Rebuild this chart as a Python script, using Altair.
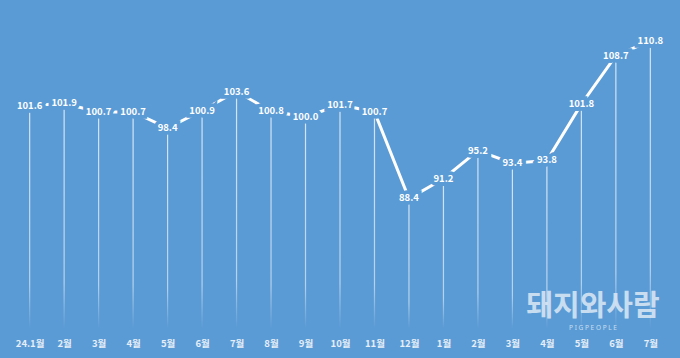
import altair as alt
import pandas as pd

months = ["24.1월", "2월", "3월", "4월", "5월", "6월", "7월", "8월", "9월", "10월",
          "11월", "12월", "1월", "2월", "3월", "4월", "5월", "6월", "7월"]
values = [101.6, 101.9, 100.7, 100.7, 98.4, 100.9, 103.6, 100.8, 100.0, 101.7,
          100.7, 88.4, 91.2, 95.2, 93.4, 93.8, 101.8, 108.7, 110.8]

BG = "#5b9bd5"
df = pd.DataFrame({"i": list(range(len(months))), "v": values,
                   "label": [f"{v:.1f}" for v in values]})

label_expr = "[" + ",".join(f"'{m}'" for m in months) + "][datum.value]"

x = alt.X("i:O", scale=alt.Scale(type="point", padding=0.86),
          axis=alt.Axis(title=None, labelAngle=0, domain=False, ticks=False,
                        labelExpr=label_expr, labelPadding=10, labelFontSize=9.5,
                        labelColor="#e6eef8", labelFont="Noto Sans CJK KR",
                        labelFontWeight="bold"))
y = alt.Y("v:Q", scale=alt.Scale(domain=[70, 116.6], nice=False, zero=False),
          axis=None)

base = alt.Chart(df)

drops = base.mark_bar(
    width=1.2,
    color=alt.Gradient(gradient="linear", x1=0, y1=0, x2=0, y2=1,
                       stops=[alt.GradientStop(color="rgba(255,255,255,0.75)", offset=0),
                              alt.GradientStop(color="rgba(255,255,255,0.55)", offset=0.8),
                              alt.GradientStop(color="rgba(255,255,255,0.0)", offset=1)])
).encode(x=x, y=y, y2=alt.datum(70))

line = base.mark_line(color="white", strokeWidth=3).encode(x=x, y=y)

mask = base.mark_text(font="Noto Sans CJK KR", fontWeight="bold", fontSize=9.5,
                      color=BG, stroke=BG, strokeWidth=7.5, strokeJoin="miter",
                      baseline="middle").encode(x=x, y=y, text="label:N")

labels = base.mark_text(font="Noto Sans CJK KR", fontWeight="bold", fontSize=9.5,
                        color="white", baseline="middle").encode(x=x, y=y, text="label:N")

wm_df = pd.DataFrame({"t": ["돼지와사람"], "s": ["P I G P E O P L E"]})
wm1 = alt.Chart(wm_df).mark_text(font="Noto Sans CJK KR", fontWeight="bold", fontSize=29,
                                 color="#dde9f5", opacity=0.85, align="center",
                                 baseline="middle").encode(
    x=alt.value(593), y=alt.value(307), text="t:N")
wm2 = alt.Chart(wm_df).mark_text(font="Noto Sans", fontSize=6.5, color="#dde9f5",
                                 opacity=0.85, align="center", baseline="middle").encode(
    x=alt.value(593), y=alt.value(328), text="s:N")

chart = alt.layer(drops, line, mask, labels, wm1, wm2).properties(
    width=680, height=328,
    background=BG,
    padding={"left": 0, "right": 0, "top": 0, "bottom": 30},
    autosize=alt.AutoSizeParams(type="none"),
).configure_view(stroke=None)

chart.save("out.html", embed_options={"renderer": "svg", "actions": False})
